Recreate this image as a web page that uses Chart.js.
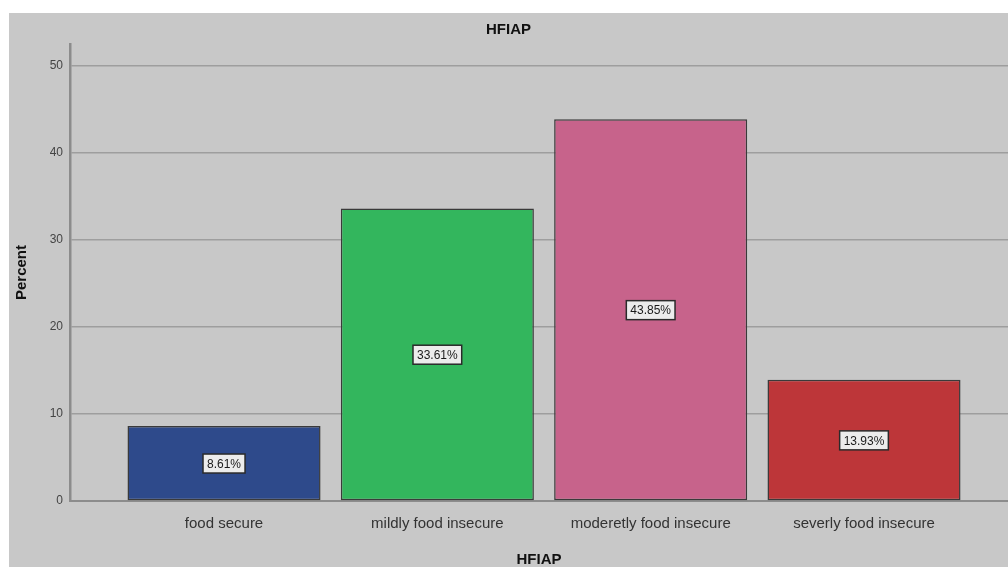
<!DOCTYPE html>
<html>
<head>
<meta charset="utf-8">
<script src="https://cdn.jsdelivr.net/npm/chart.js@4.4.0/dist/chart.umd.min.js"></script>
<style>
  body { margin: 0; background: #fff; }
  #wrap { position: absolute; left: 9px; top: 13px; width: 999px; height: 554px; background: #c8c8c8; }
</style>
</head>
<body>
<div id="wrap"><canvas id="myChart"></canvas></div>
<script>
var categories = ['food secure', 'mildly food insecure', 'moderetly food insecure', 'severly food insecure'];
var percent = [8.61, 33.61, 43.85, 13.93];
var yTicks = [0, 10, 20, 30, 40, 50];
var barColors = ['#2e4a8b', '#33b65d', '#c7638b', '#bd3639'];

var FONT = 'Arial, "Liberation Sans", sans-serif';

// boxed value labels in the middle of each bar
var boxLabels = {
  id: 'boxLabels',
  afterDatasetsDraw: function(chart) {
    var ctx = chart.ctx;
    var meta = chart.getDatasetMeta(0);
    var yScale = chart.scales.y;
    ctx.save();
    ctx.font = '12px ' + FONT;
    ctx.textAlign = 'center';
    ctx.textBaseline = 'middle';
    meta.data.forEach(function(bar, i) {
      var txt = percent[i].toFixed(2) + '%';
      var x = bar.x;
      var y = yScale.getPixelForValue(percent[i] / 2);
      var w = ctx.measureText(txt).width + 8;
      var h = 19;
      ctx.fillStyle = '#ececec';
      ctx.fillRect(x - w / 2, y - h / 2, w, h);
      ctx.strokeStyle = '#2a2a2a';
      ctx.lineWidth = 1.5;
      ctx.strokeRect(x - w / 2, y - h / 2, w, h);
      ctx.fillStyle = '#1a1a1a';
      ctx.fillText(txt, x, y + 1);
    });
    ctx.restore();
  }
};

var el = document.getElementById('myChart');
el.width = 999;
el.height = 554;
var ctx = el.getContext('2d');
var chart = new Chart(ctx, {
  type: 'bar',
  data: {
    datasets: [{
      label: 'Percent',
      data: categories.map(function(c, i) { return { x: i, y: percent[i] }; }),
      backgroundColor: barColors,
      borderColor: '#3a3a3a',
      borderWidth: 1.5,
      borderSkipped: false,
      barPercentage: 0.905,
      categoryPercentage: 1
    }]
  },
  options: {
    responsive: false,
    animation: false,
    events: [],
    layout: { padding: 0 },
    plugins: {
      legend: { display: false },
      tooltip: { enabled: false },
      title: {
        display: true,
        text: 'HFIAP',
        color: '#111',
        font: { family: FONT, size: 15, weight: 'bold' },
        padding: { top: 8, bottom: 5 }
      }
    },
    scales: {
      x: {
        type: 'linear',
        min: -0.722,
        max: 3.675,
        offset: false,
        afterBuildTicks: function(axis) {
          axis.ticks = categories.map(function(c, i) { return { value: i }; });
        },
        afterFit: function(axis) { axis.height = 66; },
        ticks: {
          callback: function(v) { return categories[v] !== undefined ? categories[v] : ''; },
          color: '#333',
          font: { family: FONT, size: 15 },
          padding: 14,
          maxRotation: 0,
          autoSkip: false
        },
        grid: { display: false, offset: false, drawTicks: false },
        border: { display: true, color: '#8c8c8c', width: 2 },
        title: {
          display: true,
          text: 'HFIAP',
          color: '#111',
          font: { family: FONT, size: 15, weight: 'bold', lineHeight: 1 },
          padding: { top: 0, bottom: 0 }
        }
      },
      y: {
        min: 0,
        max: 52.5,
        afterBuildTicks: function(axis) {
          axis.ticks = yTicks.map(function(v) { return { value: v }; });
        },
        afterFit: function(axis) { axis.width = 61; },
        ticks: {
          color: '#444',
          font: { family: FONT, size: 12 },
          padding: 7
        },
        grid: { color: '#9e9e9e', lineWidth: 1.5, drawTicks: false },
        border: { display: true, color: '#8c8c8c', width: 2.5 },
        title: {
          display: true,
          text: 'Percent',
          color: '#111',
          font: { family: FONT, size: 15, weight: 'bold' },
          padding: { top: 4, bottom: 0 }
        }
      }
    }
  },
  plugins: [boxLabels]
});
</script>
</body>
</html>
